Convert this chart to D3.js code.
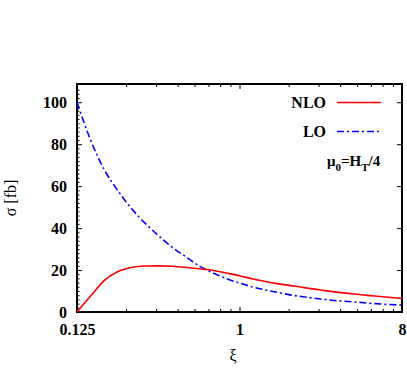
<!DOCTYPE html>
<html>
<head>
<meta charset="utf-8">
<script src="https://cdn.jsdelivr.net/npm/d3@7"></script>
<style>
  body { margin: 0; background: #fff; }
  text { font-family: "Liberation Serif", "DejaVu Serif", serif; }
</style>
</head>
<body>
<div id="viz"></div>
<script>
// xi = 0.125 * 2^(k/4), k = 0..24 (quarter octaves)
const xiValues = [0.125, 0.1487, 0.1768, 0.2102, 0.25, 0.2973, 0.3536, 0.4204, 0.5,
    0.5946, 0.7071, 0.8409, 1, 1.189, 1.414, 1.682, 2, 2.378, 2.828, 3.364, 4,
    4.757, 5.657, 6.727, 8];
const nloValues = [0, 7.6, 15, 19.2, 21.2, 21.9, 22.0, 21.8, 21.3, 20.6, 19.9, 18.6,
    17.3, 15.7, 14.4, 13.3, 12.4, 11.4, 10.5, 9.6, 8.9, 8.2, 7.6, 7.0, 6.5];
const loValues = [100, 82, 68, 58, 49.5, 42.5, 36.5, 31, 26.5, 22, 18.8, 16.0,
    13.8, 11.9, 10.4, 9.1, 7.9, 7.0, 6.2, 5.5, 5.0, 4.5, 4.0, 3.6, 3.3];
const xTickValues = [0.125, 1, 8];
const yTickValues = [0, 20, 40, 60, 80, 100];

const margin = {top: 84, right: 5, bottom: 58, left: 77},
    width = 407 - margin.left - margin.right,
    height = 370 - margin.top - margin.bottom;

const svg = d3.select("#viz")
    .append("svg")
        .attr("width", 407)
        .attr("height", 370);

const g = svg.append("g")
    .attr("transform", `translate(${margin.left},${margin.top})`);

const x = d3.scaleLog()
    .domain([0.125, 8])
    .range([0, width]);

const y = d3.scaleLinear()
    .domain([0, 108.7])
    .range([height, 0]);

// minor ticks: 7 linear steps between the major ticks
let xMinor = [];
for (let i = 1; i < 8; i++) {
    xMinor.push(0.125 + i * (1 - 0.125) / 8);
    xMinor.push(1 + i * (8 - 1) / 8);
}
let yMinor = d3.range(0, 108, 2).filter(function(v) { return v % 20 != 0; });

// minor ticks
g.append("g")
    .attr("transform", `translate(0, ${height})`)
    .call(d3.axisBottom(x).tickValues(xMinor).tickSize(-3).tickFormat(""));
g.append("g")
    .call(d3.axisTop(x).tickValues(xMinor).tickSize(-3).tickFormat(""));
g.append("g")
    .call(d3.axisLeft(y).tickValues(yMinor).tickSize(-2.5).tickFormat(""));

// major ticks + labels
g.append("g")
    .attr("class", "xaxis")
    .attr("transform", `translate(0, ${height})`)
    .call(d3.axisBottom(x).tickValues(xTickValues).tickSize(-5).tickPadding(11.6)
        .tickFormat(function(d) { return d == 0.125 ? "0.125" : d; }));
g.append("g")
    .call(d3.axisTop(x).tickValues(xTickValues).tickSize(-5).tickFormat(""));
g.append("g")
    .attr("class", "yaxis")
    .call(d3.axisLeft(y).tickValues(yTickValues).tickSize(-5).tickPadding(10));
g.append("g")
    .attr("transform", `translate(${width}, 0)`)
    .call(d3.axisRight(y).tickValues(yTickValues).tickSize(-5).tickFormat(""));

g.selectAll(".domain").remove();
g.selectAll(".tick line").attr("stroke", "#000").attr("stroke-width", 1);
g.selectAll(".xaxis text, .yaxis text")
    .attr("fill", "#000")
    .style("font-family", "'Liberation Serif', serif")
    .style("font-weight", "bold")
    .style("font-size", "16px");

// frame
g.append("rect")
    .attr("width", width)
    .attr("height", height)
    .attr("fill", "none")
    .attr("stroke", "#000")
    .attr("stroke-width", 2);

// curves
const line = function(values) {
    return d3.line()
        .x(function(d, i) { return x(xiValues[i]); })
        .y(function(d) { return y(d); })
        .curve(d3.curveMonotoneX)(values);
};

g.append("path")
    .attr("d", line(loValues))
    .attr("fill", "none")
    .attr("stroke", "#0000ff")
    .attr("stroke-width", 1.6)
    .attr("stroke-dasharray", "7,3,2,3");

g.append("path")
    .attr("d", line(nloValues))
    .attr("fill", "none")
    .attr("stroke", "#ff0000")
    .attr("stroke-width", 1.6);

// legend
const legend = [
    {name: "NLO", color: "#ff0000", dash: null, y: 102.5},
    {name: "LO", color: "#0000ff", dash: "7,3,2,3", y: 131.5}
];
legend.forEach(function(d) {
    svg.append("text")
        .attr("x", 326)
        .attr("y", d.y + 5.5)
        .attr("text-anchor", "end")
        .style("font-weight", "bold")
        .style("font-size", "16px")
        .text(d.name);
    svg.append("line")
        .attr("x1", 337).attr("x2", 381)
        .attr("y1", d.y).attr("y2", d.y)
        .attr("stroke", d.color)
        .attr("stroke-width", 1.6)
        .attr("stroke-dasharray", d.dash);
});

const mu = svg.append("text")
    .attr("x", 327)
    .attr("y", 166)
    .style("font-weight", "bold")
    .style("font-size", "15px");
mu.append("tspan").text("μ");
mu.append("tspan").attr("dy", 5).style("font-size", "11px").text("0");
mu.append("tspan").attr("dy", -5).text("=H");
mu.append("tspan").attr("dy", 5).style("font-size", "11px").text("T");
mu.append("tspan").attr("dy", -5).text("/4");

// axis titles
svg.append("text")
    .attr("transform", "translate(16, 198) rotate(-90)")
    .attr("text-anchor", "middle")
    .style("font-size", "16px")
    .text("σ [fb]");

svg.append("text")
    .attr("x", 233)
    .attr("y", 361)
    .attr("text-anchor", "middle")
    .style("font-size", "16px")
    .text("ξ");
</script>
</body>
</html>
